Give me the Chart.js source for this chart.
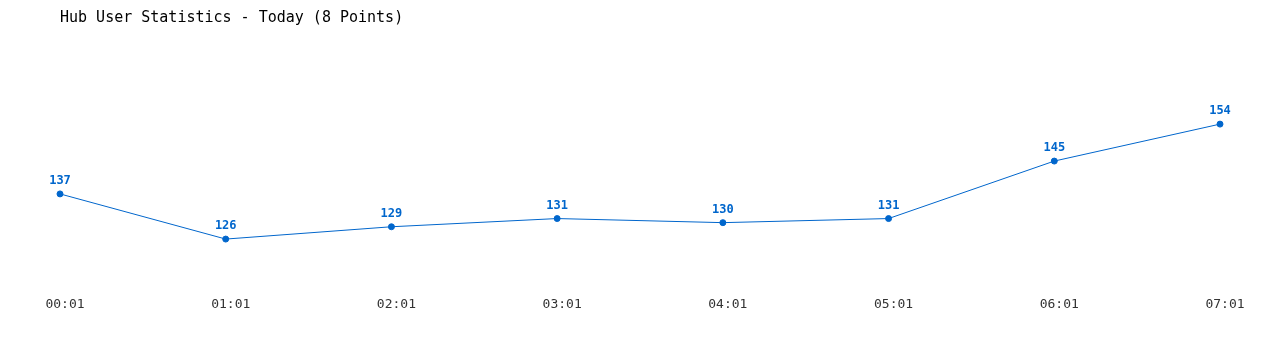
<!DOCTYPE html>
<html>
<head>
<meta charset="utf-8">
<script src="https://cdn.jsdelivr.net/npm/chart.js@4.4.1/dist/chart.umd.min.js"></script>
<style>
	html, body { margin: 0; padding: 0; background: #fff; }
	#wrap { width: 1280px; height: 350px; position: relative; }
</style>
</head>
<body>
<div id="wrap"><canvas id="mycanvas"></canvas></div>
<script>
var times = ['00:01', '01:01', '02:01', '03:01', '04:01', '05:01', '06:01', '07:01'];
var users = [137, 126, 129, 131, 130, 131, 145, 154];
var chartTitle = 'Hub User Statistics - Today (8 Points)';

// draws the value above every point
var valueLabels = {
	id: 'valueLabels',
	afterDatasetsDraw: function(chart) {
		var ctx = chart.ctx;
		var meta = chart.getDatasetMeta(0);
		ctx.save();
		ctx.font = 'bold 12px "DejaVu Sans Mono", monospace';
		ctx.fillStyle = '#0066cc';
		ctx.textAlign = 'center';
		ctx.textBaseline = 'middle';
		meta.data.forEach(function(pt, i) {
			ctx.fillText(chart.data.datasets[0].data[i], pt.x, pt.y - 13);
		});
		ctx.restore();
	}
};

var chartdata = {
	labels: times,
	datasets: [
		{
			label: 'Users',
			data: users,
			borderColor: '#0066cc',
			backgroundColor: '#0066cc',
			borderWidth: 1,
			pointRadius: 3,
			pointBorderWidth: 1,
			pointBackgroundColor: '#0066cc',
			tension: 0,
			fill: false
		}
	]
};

var ctx = document.getElementById('mycanvas');
var lineGraph = new Chart(ctx, {
	type: 'line',
	data: chartdata,
	plugins: [valueLabels],
	options: {
		responsive: true,
		maintainAspectRatio: false,
		animation: false,
		layout: { padding: { left: 60, right: 60, top: 0, bottom: 32 } },
		plugins: {
			legend: { display: false },
			tooltip: { enabled: false },
			title: {
				display: true,
				text: chartTitle,
				align: 'start',
				color: '#000',
				font: { family: '"DejaVu Sans Mono", monospace', size: 15, weight: 'normal' },
				padding: { top: 9, bottom: 15 }
			}
		},
		scales: {
			x: {
				offset: false,
				grid: { display: false, drawTicks: false },
				border: { display: false },
				ticks: {
					color: '#333',
					padding: 6,
					labelOffset: 5,
					maxRotation: 0,
					autoSkip: false,
					font: { family: '"DejaVu Sans Mono", monospace', size: 13 }
				}
			},
			y: {
				display: false,
				min: 113.5,
				max: 174
			}
		}
	}
});
</script>
</body>
</html>
